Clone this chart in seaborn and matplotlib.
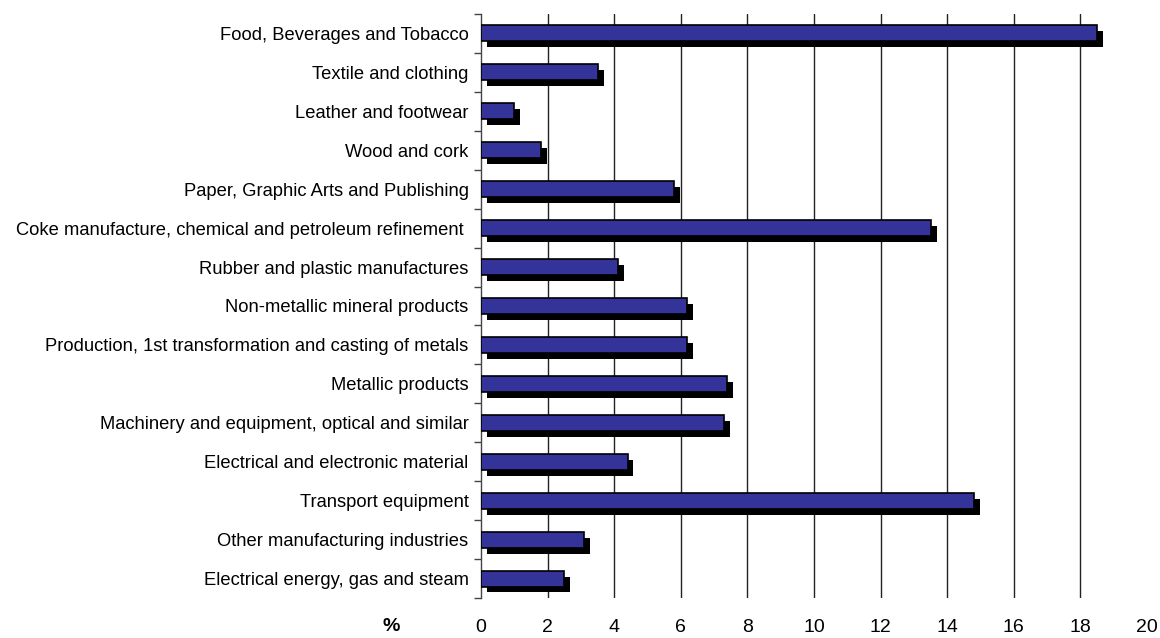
import matplotlib
matplotlib.use("Agg")
import matplotlib.pyplot as plt
import matplotlib.patheffects as pe
import seaborn as sns
import pandas as pd
import numpy as np

categories = [
    "Food, Beverages and Tobacco",
    "Textile and clothing",
    "Leather and footwear",
    "Wood and cork",
    "Paper, Graphic Arts and Publishing",
    "Coke manufacture, chemical and petroleum refinement ",
    "Rubber and plastic manufactures",
    "Non-metallic mineral products",
    "Production, 1st transformation and casting of metals",
    "Metallic products",
    "Machinery and equipment, optical and similar",
    "Electrical and electronic material",
    "Transport equipment",
    "Other manufacturing industries",
    "Electrical energy, gas and steam",
]
values = [18.5, 3.5, 1.0, 1.8, 5.8, 13.5, 4.1, 6.2, 6.2, 7.4, 7.3, 4.4, 14.8, 3.1, 2.5]
x_ticks = [0, 2, 4, 6, 8, 10, 12, 14, 16, 18, 20]

df = pd.DataFrame({"category": categories, "value": values})

sns.set_style("white")
plt.rcParams["font.family"] = ["Liberation Sans", "DejaVu Sans"]
plt.rcParams["text.color"] = "black"
plt.rcParams["xtick.color"] = "black"
plt.rcParams["ytick.color"] = "black"

fig = plt.figure(figsize=(11.6, 6.38), dpi=100)
ax = fig.add_axes([481/1160, 1 - 598/638, 666/1160, 584/638])

sns.barplot(data=df, y="category", x="value", orient="h", color="#333399",
            width=0.41, edgecolor="black", linewidth=1.2, saturation=1, ax=ax,
            zorder=3)

for p in ax.patches:
    p.set_path_effects([pe.SimplePatchShadow(offset=(4.3, -4.3), shadow_rgbFace="black", alpha=1.0),
                        pe.Normal()])

ax.set_xlim(0, 20)
ax.set_ylim(len(categories) - 0.5, -0.5)
ax.set_xticks(x_ticks)
ax.set_xticklabels([str(t) for t in x_ticks], fontsize=14, color="black")
ax.tick_params(axis="x", length=0, pad=15)
ax.set_yticks(np.arange(len(categories)))
ax.set_yticklabels(categories, fontsize=13.2, color="black")
ax.set_yticks(np.arange(len(categories) + 1) - 0.5, minor=True)
ax.tick_params(axis="y", which="major", length=0, pad=9)
ax.tick_params(axis="y", which="minor", length=5, width=1, color="#444444", left=True, direction="out")
ax.set_xlabel("")
ax.set_ylabel("")

for t in x_ticks[1:-1]:
    ax.axvline(t, color="#222222", linewidth=1, zorder=1)

for s in ["top", "right", "bottom"]:
    ax.spines[s].set_visible(False)
ax.spines["left"].set_color("#444444")
ax.spines["left"].set_linewidth(1)

ax.text(-0.135, -0.049, "%", transform=ax.transAxes, ha="center", va="center",
        fontsize=14, fontweight="bold", color="black")

fig.savefig("out.png", dpi=100)
